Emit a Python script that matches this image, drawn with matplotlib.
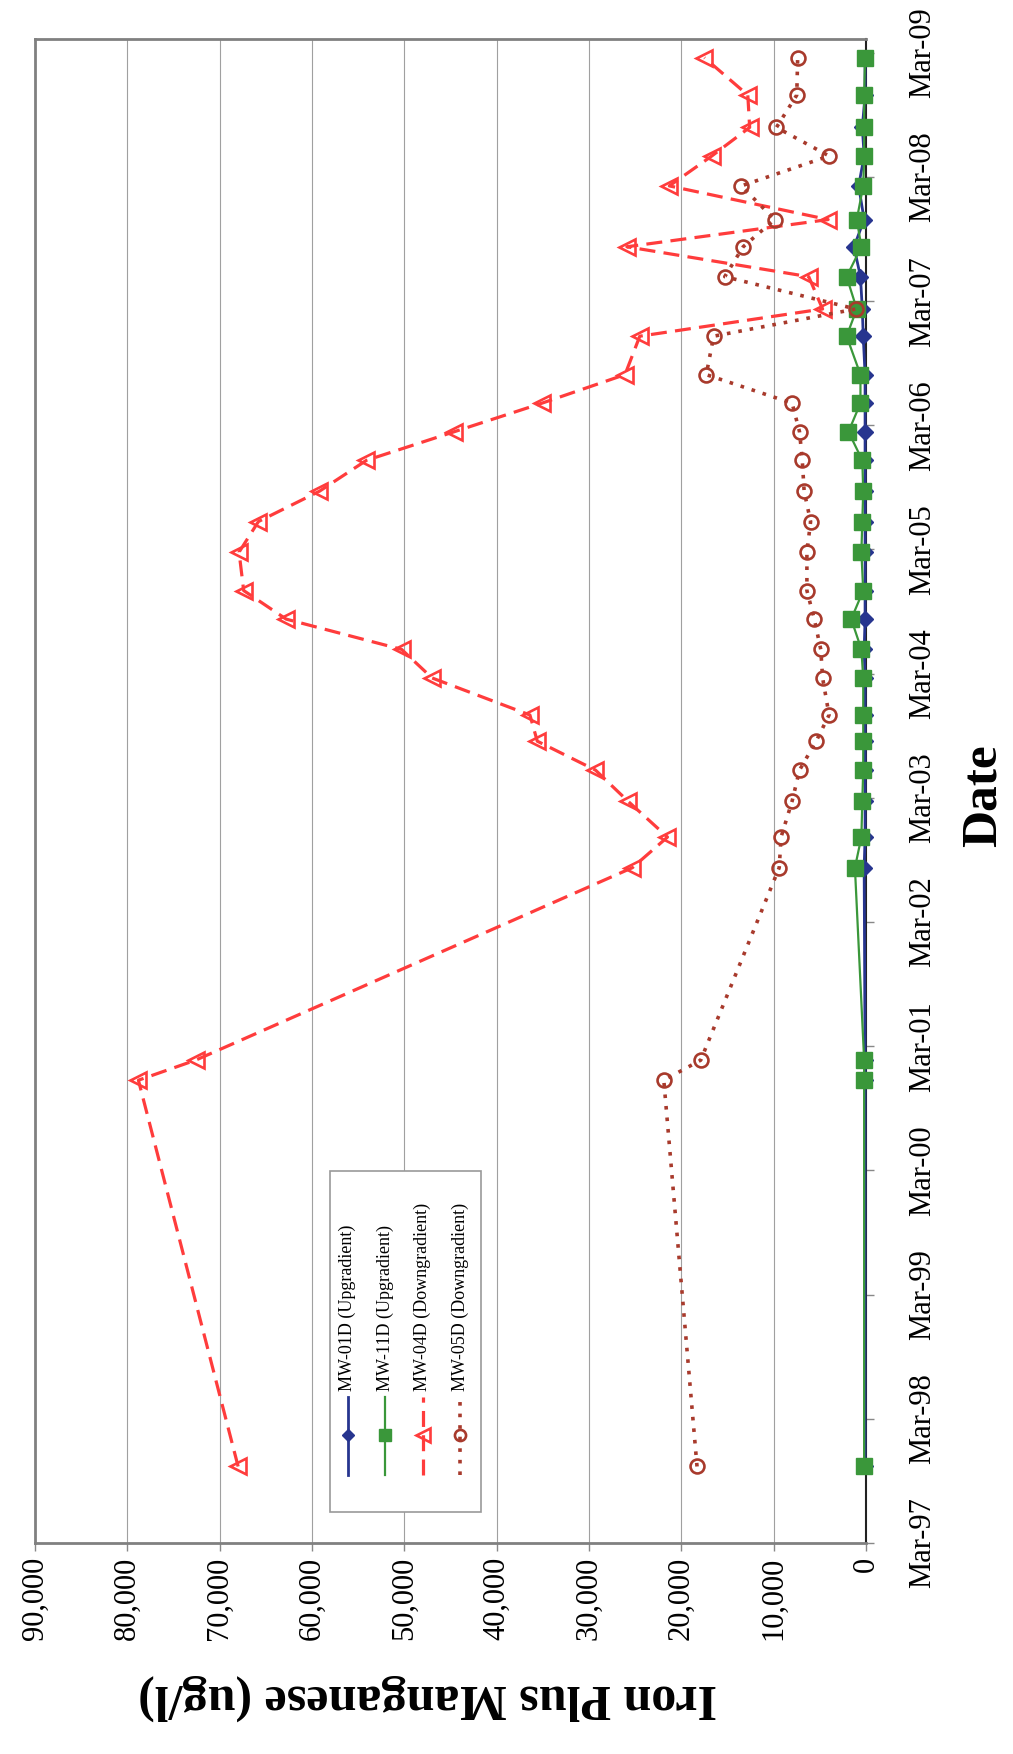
import matplotlib
matplotlib.use('Agg')
import matplotlib.pyplot as plt
import matplotlib.dates as mdates
from matplotlib.lines import Line2D
from matplotlib.patches import Rectangle
from matplotlib.ticker import FuncFormatter
import pandas as pd

plt.rcParams['font.family'] = ['Liberation Serif', 'DejaVu Serif']

# sampling dates
sample_dates = ['1997-10-12', '2000-11-21', '2001-01-19', '2002-08-08', '2002-11-06',
                '2003-02-20', '2003-05-22', '2003-08-15', '2003-10-31', '2004-02-17',
                '2004-05-11', '2004-08-08', '2004-10-31', '2005-02-21', '2005-05-22',
                '2005-08-19', '2005-11-18', '2006-02-10', '2006-05-05', '2006-07-28',
                '2006-11-18', '2007-02-06', '2007-05-12', '2007-08-08', '2007-10-27',
                '2008-02-03', '2008-05-01', '2008-07-24', '2008-10-27', '2009-02-14']

# iron plus manganese, ug/l
mw01d = [100, 100, 100, 200, 100, 100, 100, 100, 100, 100,
         200, 100, 100, 100, 100, 100, 100, 100, 100, 100,
         300, 400, 600, 1300, 200, 800, 200, 400, 100, 100]
mw11d = [200, 200, 200, 1200, 500, 400, 300, 300, 300, 300,
         500, 1600, 300, 500, 400, 300, 400, 1900, 600, 600,
         2100, 1000, 2100, 500, 1000, 300, 200, 200, 200, 100]
mw04d = [68000, 78800, 72600, 25300, 21500, 25800, 29300, 35600, 36400, 47000,
         50300, 62800, 67400, 67900, 65800, 59200, 54100, 44600, 35100, 26100,
         24500, 4700, 6200, 25900, 4100, 21300, 16700, 12600, 12800, 17500]
mw05d = [18300, 21900, 17900, 9400, 9200, 8000, 7200, 5400, 4000, 4700,
         4900, 5600, 6400, 6400, 6000, 6700, 6900, 7200, 8000, 17300,
         16500, 1100, 15300, 13300, 9900, 13500, 4000, 9700, 7500, 7400]

series_names = ['MW-01D (Upgradient)', 'MW-11D (Upgradient)',
                'MW-04D (Downgradient)', 'MW-05D (Downgradient)']
year_ticks = ['1997-03-01', '1998-03-01', '1999-03-01', '2000-03-01', '2001-03-01',
              '2002-03-01', '2003-03-01', '2004-03-01', '2005-03-01', '2006-03-01',
              '2007-03-01', '2008-03-01', '2009-03-01']
value_ticks = [0, 10000, 20000, 30000, 40000, 50000, 60000, 70000, 80000, 90000]

W, H = 1013, 1754
fig = plt.figure(figsize=(W / 100, H / 100), dpi=100)
ax = fig.add_axes([35 / W, 1 - 1543 / H, (866 - 35) / W, (1543 - 39) / H])

dates = mdates.date2num(pd.to_datetime(sample_dates))

styles = [
    dict(color='#27358f', marker='D', markersize=8, lw=2.0, ls='-'),
    dict(color='#3a973a', marker='s', markersize=11, lw=1.6, ls='-'),
    dict(color='#ff3c3c', marker='<', markersize=12, lw=2.3, ls=(0, (5, 2.6)),
         markerfacecolor='none', markeredgewidth=1.9),
    dict(color='#a83a2c', marker='o', markersize=10, lw=2.6, ls=(0, (1, 2.2)),
         markerfacecolor='none', markeredgewidth=1.9),
]
for vals, st in zip([mw01d, mw11d, mw04d, mw05d], styles):
    ax.plot(vals, dates, clip_on=False, zorder=3, **st)

ax.set_xlim(90000, 0)
ax.set_ylim(mdates.date2num(pd.Timestamp('1997-03-01')),
            mdates.date2num(pd.Timestamp('2009-04-10')))

ax.set_xticks(value_ticks)
ax.xaxis.set_major_formatter(FuncFormatter(lambda v, p: '{:,.0f}'.format(v)))
ax.set_yticks(mdates.date2num(pd.to_datetime(year_ticks)))
ax.set_yticklabels([pd.Timestamp(t).strftime('%b-%y') for t in year_ticks])
ax.yaxis.tick_right()
ax.yaxis.set_label_position('right')

ax.tick_params(axis='x', direction='out', length=6, width=1, color='#888888',
               labelsize=22, labelrotation=90, pad=4)
ax.tick_params(axis='y', direction='out', length=6, width=1, color='#888888',
               labelsize=22, labelrotation=90, pad=24)
for lab in ax.get_yticklabels():
    lab.set_va('center')

ax.grid(axis='x', color='#a0a0a0', lw=0.8)
ax.set_axisbelow(True)
for s in ['left', 'top', 'bottom']:
    ax.spines[s].set_color('#808080')
    ax.spines[s].set_linewidth(2)
ax.spines['right'].set_color('#222222')
ax.spines['right'].set_linewidth(1.5)

ax.set_xlabel('Iron Plus Manganese (ug/l)', fontsize=36, fontweight='bold',
              rotation=180, ha='center', va='center')
ax.xaxis.set_label_coords((428 - 35) / 831, (1543 - 1697) / 1504)
ax.set_ylabel('Date', fontsize=37, fontweight='bold', rotation=90,
              ha='center', va='center')
ax.yaxis.set_label_coords((984 - 35) / 831, (1543 - 796) / 1504)

# legend (rotated, built by hand)
def fx(x):
    return x / W

def fy(y):
    return 1 - y / H

fig.add_artist(Rectangle((fx(330), fy(1512)), fx(481) - fx(330), fy(1171) - fy(1512),
                         transform=fig.transFigure, facecolor='white',
                         edgecolor='#999999', lw=1.2, zorder=5))
for i, (name, st) in enumerate(zip(series_names, styles)):
    x = 347.5 + i * 37.5
    st2 = dict(st)
    st2['markersize'] = st['markersize'] * 0.8
    fig.add_artist(Line2D([fx(x)] * 3, [fy(1475), fy(1435), fy(1397)],
                          transform=fig.transFigure, markevery=[1], zorder=6, **st2))
    fig.text(fx(x), fy(1391), name, rotation=90, ha='center', va='bottom',
             fontsize=13, zorder=6)

fig.savefig('out.png', dpi=100)
